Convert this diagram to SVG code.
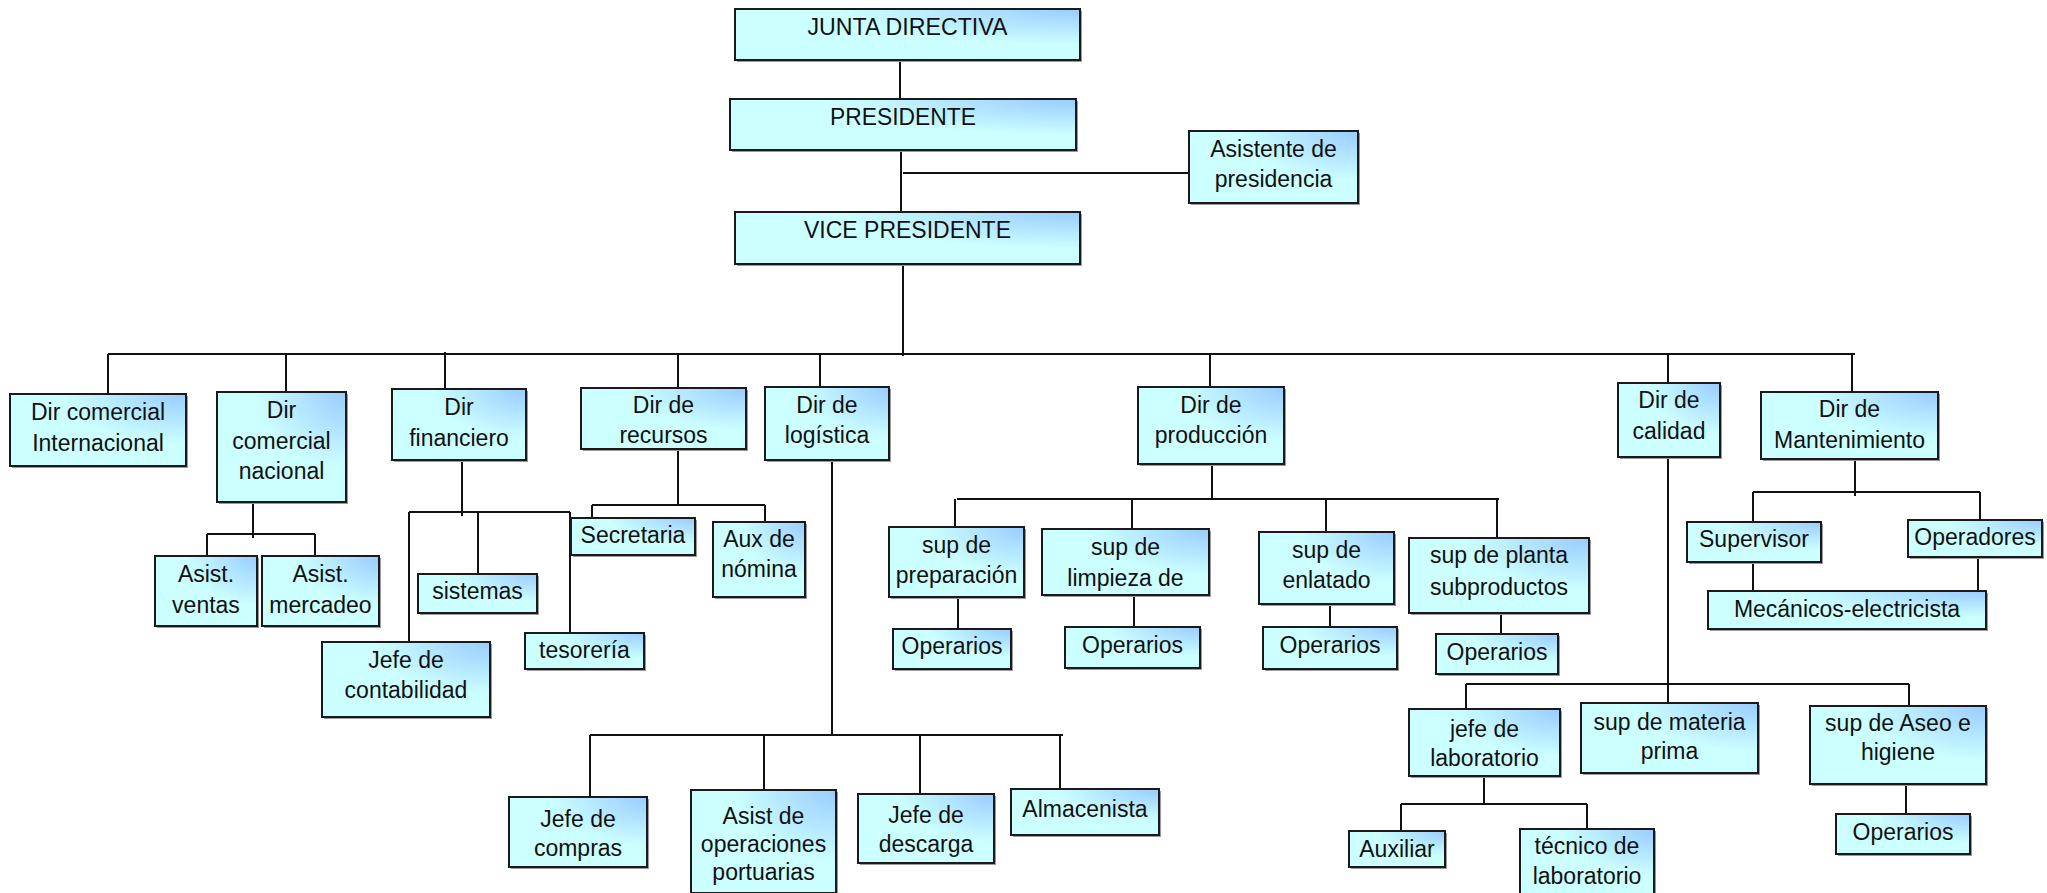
<svg xmlns="http://www.w3.org/2000/svg" width="2047" height="893" viewBox="0 0 2047 893">
<defs>
<radialGradient id="g" cx="1" cy="0" r="1" fx="1" fy="0">
<stop offset="0" stop-color="#99ccff"/>
<stop offset="0.7" stop-color="#ccffff"/>
<stop offset="1" stop-color="#ccffff"/>
</radialGradient>
<style>
.b{fill:url(#g);stroke:#1a1a1a;stroke-width:2}
.s{fill:#9a9a9a}
text{font-family:"Liberation Sans",Arial,sans-serif;font-size:23px;fill:#111;text-anchor:middle}
.c path{fill:none;stroke:#111;stroke-width:2}
</style>
</defs>
<rect width="2047" height="893" fill="#fff"/>
<g class="c" id="connectors">
<path d="M900 60V99"/>
<path d="M901 151V212"/>
<path d="M903 264V356"/>
<path d="M903 173H1192"/>
<path d="M108 354H1855"/>
<path d="M108 354V394M286 354V392M445 352V389M678 354V388M820 354V387M1210 354V387M1668 354V383M1852 354V392"/>
<path d="M253 502V538M207 534H315M207 534V556M315 534V556"/>
<path d="M462 460V516M409 512H570M409 512V642M478 512V579M570 512V633"/>
<path d="M678 449V505M592 505H765M592 505V518M765 505V522"/>
<path d="M832 460V735M590 735H1063M590 735V797M764 735V790M920 735V794M1060 735V789"/>
<path d="M1212 464V499M957 499H1499M955 499V527M1132 499V529M1326 499V532M1497 499V538"/>
<path d="M958 597V629M1134 592V627M1330 604V627M1501 613V634"/>
<path d="M1668 457V703M1466 684H1909M1466 684V709M1909 684V706"/>
<path d="M1484 776V804M1401 804H1587M1401 804V831M1587 804V829"/>
<path d="M1906 784V814"/>
<path d="M1855 459V496M1753 492H1980M1753 492V522M1980 492V520M1753 562V591M1978 557V591"/>
</g>
<g id="junta"><rect class="s" x="737" y="11" width="345" height="51"/><rect class="b" x="735" y="9" width="345" height="51"/><text x="907.5" y="35" textLength="200" lengthAdjust="spacingAndGlyphs">JUNTA DIRECTIVA</text></g>
<g id="presidente"><rect class="s" x="732" y="101" width="346" height="51"/><rect class="b" x="730" y="99" width="346" height="51"/><text x="903" y="125" textLength="146" lengthAdjust="spacingAndGlyphs">PRESIDENTE</text></g>
<g id="asistente"><rect class="s" x="1191" y="133" width="169" height="72"/><rect class="b" x="1189" y="131" width="169" height="72"/><text x="1273.5" y="157">Asistente de</text><text x="1273.5" y="187">presidencia</text></g>
<g id="vice"><rect class="s" x="737" y="214" width="345" height="52"/><rect class="b" x="735" y="212" width="345" height="52"/><text x="907.5" y="238" textLength="207" lengthAdjust="spacingAndGlyphs">VICE PRESIDENTE</text></g>
<g id="dir-com-int"><rect class="s" x="12" y="396" width="176" height="72"/><rect class="b" x="10" y="394" width="176" height="72"/><text x="98" y="420">Dir comercial</text><text x="98" y="451">Internacional</text></g>
<g id="dir-com-nac"><rect class="s" x="219" y="394" width="129" height="110"/><rect class="b" x="217" y="392" width="129" height="110"/><text x="281.5" y="418">Dir</text><text x="281.5" y="449">comercial</text><text x="281.5" y="479">nacional</text></g>
<g id="dir-fin"><rect class="s" x="394" y="391" width="134" height="71"/><rect class="b" x="392" y="389" width="134" height="71"/><text x="459" y="415">Dir</text><text x="459" y="446">financiero</text></g>
<g id="dir-rec"><rect class="s" x="583" y="390" width="165" height="61"/><rect class="b" x="581" y="388" width="165" height="61"/><text x="663.5" y="413">Dir de</text><text x="663.5" y="443">recursos</text></g>
<g id="dir-log"><rect class="s" x="767" y="389" width="124" height="73"/><rect class="b" x="765" y="387" width="124" height="73"/><text x="827" y="413">Dir de</text><text x="827" y="443">logística</text></g>
<g id="dir-prod"><rect class="s" x="1140" y="389" width="146" height="77"/><rect class="b" x="1138" y="387" width="146" height="77"/><text x="1211" y="413">Dir de</text><text x="1211" y="443">producción</text></g>
<g id="dir-cal"><rect class="s" x="1620" y="385" width="102" height="74"/><rect class="b" x="1618" y="383" width="102" height="74"/><text x="1669" y="408">Dir de</text><text x="1669" y="439">calidad</text></g>
<g id="dir-mant"><rect class="s" x="1763" y="394" width="177" height="67"/><rect class="b" x="1761" y="392" width="177" height="67"/><text x="1849.5" y="417">Dir de</text><text x="1849.5" y="448">Mantenimiento</text></g>
<g id="asist-ventas"><rect class="s" x="157" y="558" width="102" height="70"/><rect class="b" x="155" y="556" width="102" height="70"/><text x="206" y="582">Asist.</text><text x="206" y="613">ventas</text></g>
<g id="asist-mercadeo"><rect class="s" x="264" y="558" width="117" height="70"/><rect class="b" x="262" y="556" width="117" height="70"/><text x="320.5" y="582">Asist.</text><text x="320.5" y="613">mercadeo</text></g>
<g id="sistemas"><rect class="s" x="420" y="576" width="119" height="39"/><rect class="b" x="418" y="574" width="119" height="39"/><text x="477.5" y="599">sistemas</text></g>
<g id="jefe-contabilidad"><rect class="s" x="324" y="644" width="168" height="75"/><rect class="b" x="322" y="642" width="168" height="75"/><text x="406" y="668">Jefe de</text><text x="406" y="698">contabilidad</text></g>
<g id="tesoreria"><rect class="s" x="527" y="635" width="119" height="36"/><rect class="b" x="525" y="633" width="119" height="36"/><text x="584.5" y="658">tesorería</text></g>
<g id="secretaria"><rect class="s" x="573" y="520" width="124" height="37"/><rect class="b" x="571" y="518" width="124" height="37"/><text x="633" y="543">Secretaria</text></g>
<g id="aux-nomina"><rect class="s" x="715" y="524" width="92" height="75"/><rect class="b" x="713" y="522" width="92" height="75"/><text x="759" y="547">Aux de</text><text x="759" y="577">nómina</text></g>
<g id="sup-prep"><rect class="s" x="891" y="529" width="135" height="70"/><rect class="b" x="889" y="527" width="135" height="70"/><text x="956.5" y="553">sup de</text><text x="956.5" y="583">preparación</text></g>
<g id="op-prep"><rect class="s" x="895" y="631" width="118" height="40"/><rect class="b" x="893" y="629" width="118" height="40"/><text x="952" y="654">Operarios</text></g>
<g id="sup-limp"><rect class="s" x="1044" y="531" width="167" height="66"/><rect class="b" x="1042" y="529" width="167" height="66"/><text x="1125.5" y="555">sup de</text><text x="1125.5" y="586">limpieza de</text></g>
<g id="op-limp"><rect class="s" x="1067" y="629" width="135" height="41"/><rect class="b" x="1065" y="627" width="135" height="41"/><text x="1132.5" y="653">Operarios</text></g>
<g id="sup-enlat"><rect class="s" x="1261" y="534" width="135" height="72"/><rect class="b" x="1259" y="532" width="135" height="72"/><text x="1326.5" y="558">sup de</text><text x="1326.5" y="588">enlatado</text></g>
<g id="op-enlat"><rect class="s" x="1265" y="629" width="134" height="42"/><rect class="b" x="1263" y="627" width="134" height="42"/><text x="1330" y="653">Operarios</text></g>
<g id="sup-planta"><rect class="s" x="1411" y="540" width="180" height="75"/><rect class="b" x="1409" y="538" width="180" height="75"/><text x="1499" y="563">sup de planta</text><text x="1499" y="595">subproductos</text></g>
<g id="op-planta"><rect class="s" x="1438" y="636" width="122" height="40"/><rect class="b" x="1436" y="634" width="122" height="40"/><text x="1497" y="660">Operarios</text></g>
<g id="supervisor"><rect class="s" x="1689" y="524" width="134" height="40"/><rect class="b" x="1687" y="522" width="134" height="40"/><text x="1754" y="547">Supervisor</text></g>
<g id="operadores"><rect class="s" x="1910" y="522" width="134" height="37"/><rect class="b" x="1908" y="520" width="134" height="37"/><text x="1975" y="545">Operadores</text></g>
<g id="mecanicos"><rect class="s" x="1710" y="593" width="278" height="38"/><rect class="b" x="1708" y="591" width="278" height="38"/><text x="1847" y="617">Mecánicos-electricista</text></g>
<g id="jefe-compras"><rect class="s" x="511" y="799" width="138" height="70"/><rect class="b" x="509" y="797" width="138" height="70"/><text x="578" y="827">Jefe de</text><text x="578" y="856">compras</text></g>
<g id="asist-ops"><rect class="s" x="693" y="792" width="145" height="103"/><rect class="b" x="691" y="790" width="145" height="103"/><text x="763.5" y="824">Asist de</text><text x="763.5" y="852">operaciones</text><text x="763.5" y="880">portuarias</text></g>
<g id="jefe-descarga"><rect class="s" x="860" y="796" width="136" height="69"/><rect class="b" x="858" y="794" width="136" height="69"/><text x="926" y="823">Jefe de</text><text x="926" y="852">descarga</text></g>
<g id="almacenista"><rect class="s" x="1013" y="791" width="148" height="46"/><rect class="b" x="1011" y="789" width="148" height="46"/><text x="1085" y="817">Almacenista</text></g>
<g id="jefe-lab"><rect class="s" x="1411" y="711" width="151" height="67"/><rect class="b" x="1409" y="709" width="151" height="67"/><text x="1484.5" y="737">jefe de</text><text x="1484.5" y="766">laboratorio</text></g>
<g id="sup-materia"><rect class="s" x="1583" y="705" width="177" height="70"/><rect class="b" x="1581" y="703" width="177" height="70"/><text x="1669.5" y="730">sup de materia</text><text x="1669.5" y="759">prima</text></g>
<g id="sup-aseo"><rect class="s" x="1812" y="708" width="176" height="78"/><rect class="b" x="1810" y="706" width="176" height="78"/><text x="1898" y="731">sup de Aseo e</text><text x="1898" y="760">higiene</text></g>
<g id="auxiliar"><rect class="s" x="1351" y="833" width="96" height="36"/><rect class="b" x="1349" y="831" width="96" height="36"/><text x="1397" y="857">Auxiliar</text></g>
<g id="tecnico-lab"><rect class="s" x="1522" y="831" width="134" height="66"/><rect class="b" x="1520" y="829" width="134" height="66"/><text x="1587" y="854">técnico de</text><text x="1587" y="884">laboratorio</text></g>
<g id="op-aseo"><rect class="s" x="1838" y="816" width="134" height="40"/><rect class="b" x="1836" y="814" width="134" height="40"/><text x="1903" y="840">Operarios</text></g>
</svg>
